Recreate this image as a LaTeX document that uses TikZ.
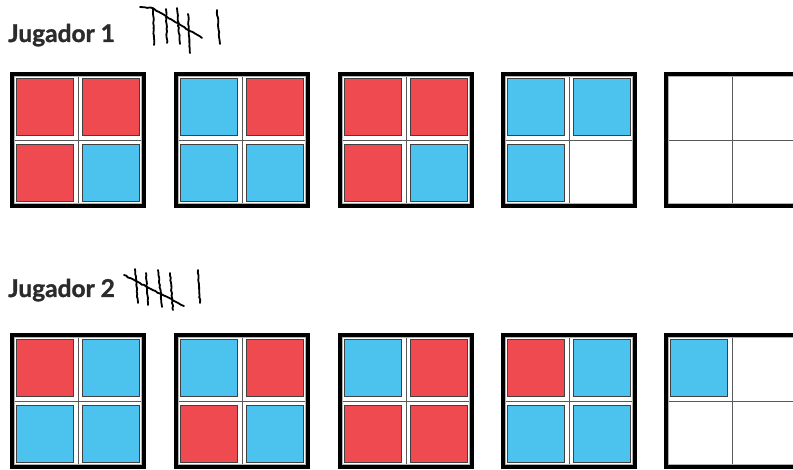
\documentclass[tikz,border=0pt]{standalone}
\usepackage{fontspec}
\setmainfont{Lato}[BoldFeatures={FakeBold=1.2}]
\usetikzlibrary{decorations.pathmorphing}
\definecolor{tred}{HTML}{EE4A50}
\definecolor{tblue}{HTML}{4BC3EE}
\definecolor{ink}{HTML}{2B2B2B}
\newcommand\mysq[4]{\node[#4] (#1) at (#2,#3) {};}
\newcommand\myboard[7]{%
  \draw[gridline] ({#2},{#3-64}) -- ({#2},{#3+64});
  \draw[gridline] ({#2-64},{#3}) -- ({#2+64},{#3});
  \draw[innerline] ({#2-63.3},{#3-63.3}) rectangle ({#2+63.3},{#3+63.3});
  \node[boardframe] (#1) at (#2,#3) {};
  \mysq{#1a}{#2-33}{#3-33}{#4}
  \mysq{#1b}{#2+33}{#3-33}{#5}
  \mysq{#1c}{#2-33}{#3+33}{#6}
  \mysq{#1d}{#2+33}{#3+33}{#7}
}
\begin{document}
\begin{tikzpicture}[x=1pt,y=-1pt,
  boardframe/.style={draw=black,line width=4pt,minimum size=132pt,inner sep=0pt},
  sq/.style={draw=black!75,line width=1.4pt,minimum size=56.5pt,inner sep=0pt},
  rc/.style={sq,fill=tred}, bc/.style={sq,fill=tblue}, nc/.style={inner sep=0pt},
  gridline/.style={draw=black!65,line width=0.8pt},
  innerline/.style={draw=black!30,line width=0.7pt},
  tally/.style={line width=1.8pt,line cap=round,decorate,decoration={random steps,segment length=2.5pt,amplitude=0.45pt}},
  plabel/.style={font=\fontsize{24.5}{28}\selectfont\bfseries,text=ink,anchor=base west,inner sep=0pt}]
\clip (0,0) rectangle (793,470);
\fill[white] (0,0) rectangle (793,470);
\pgfmathsetseed{7}
\node[plabel] (j1) at (8,42) {Jugador 1};
\node[plabel] (j2) at (8,297) {Jugador 2};
% tallies player 1
\draw[tally] (153,8) -- (154,45);
\draw[tally] (166,9) -- (167,43);
\draw[tally] (177,8) -- (180,44);
\draw[tally] (188,14) -- (190,53);
\draw[tally] (217,10) -- (220,44);
\draw[tally] (140,7) -- (152,8) -- (202,38);
% tallies player 2
\draw[tally] (135,269) -- (138,303);
\draw[tally] (146,273) -- (148,305);
\draw[tally] (158,270) -- (162,307);
\draw[tally] (170,273) -- (173,310);
\draw[tally] (198,270) -- (200,303);
\draw[tally] (124,275) -- (184,306);
% row 1
\myboard{fa}{78}{140}{rc}{rc}{rc}{bc}
\myboard{fb}{242}{140}{bc}{rc}{bc}{bc}
\myboard{fc}{406}{140}{rc}{rc}{rc}{bc}
\myboard{fd}{569}{140}{bc}{bc}{bc}{nc}
\myboard{fe}{732}{140}{nc}{nc}{nc}{nc}
% row 2
\myboard{ga}{78}{401}{rc}{bc}{bc}{bc}
\myboard{gb}{242}{401}{bc}{rc}{rc}{bc}
\myboard{gc}{406}{401}{bc}{rc}{rc}{rc}
\myboard{gd}{569}{401}{rc}{bc}{bc}{bc}
\myboard{ge}{732}{401}{bc}{nc}{nc}{nc}
\end{tikzpicture}
\end{document}
